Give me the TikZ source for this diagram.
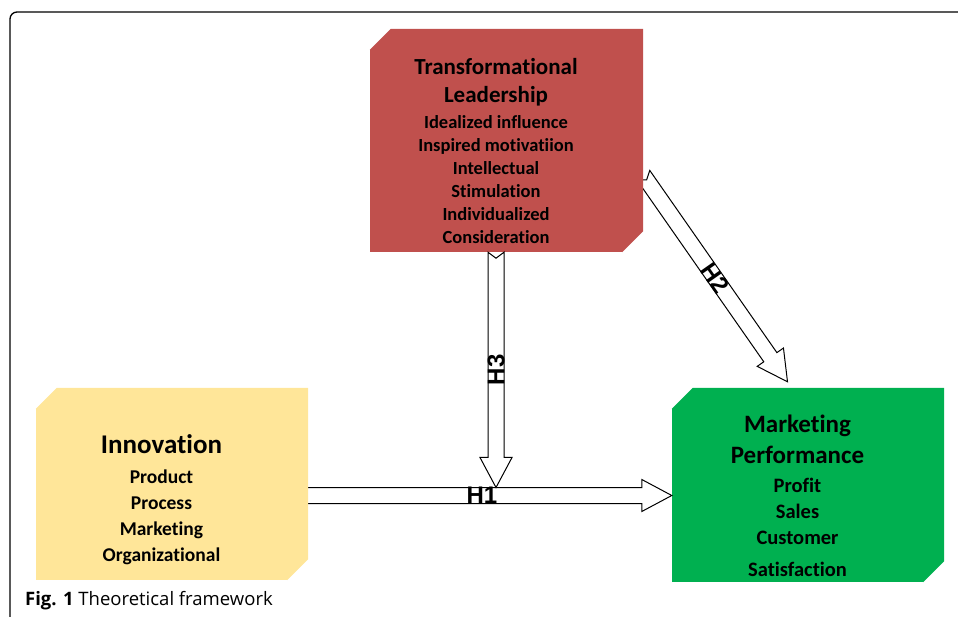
\documentclass[tikz,border=0pt]{standalone}
\usepackage{fontspec}
\setmainfont{Carlito}[Ligatures=NoCommon]
\newfontfamily\capfont{Open Sans}
\newfontfamily\hfont{Liberation Sans}
\usetikzlibrary{calc,positioning}

\definecolor{leadred}{HTML}{C0504D}
\definecolor{innovyellow}{HTML}{FFE699}
\definecolor{perfgreen}{HTML}{00B050}

\tikzset{
  face/.style={draw=none, inner sep=0pt, align=center},
  harrow/.style={draw=black, line width=1pt, fill=white, line join=miter},
  hlabel/.style={font=\hfont\bfseries\fontsize{24}{24}\selectfont, inner sep=0pt},
}

% hollow notched arrow from #1 (tail) to #2 (tip)
\newcommand\hollowarrow[2]{%
  \draw[harrow] ($(#1)!8pt!90:(#2)$)
    -- ($(#2)!30pt!(#1)!8pt!-90:(#1)$)
    -- ($(#2)!30pt!(#1)!16pt!-90:(#1)$)
    -- (#2)
    -- ($(#2)!30pt!(#1)!16pt!90:(#1)$)
    -- ($(#2)!30pt!(#1)!8pt!90:(#1)$)
    -- ($(#1)!8pt!-90:(#2)$)
    -- ($(#1)!6pt!(#2)$) -- cycle;}

\begin{document}
\begin{tikzpicture}[x=1pt,y=1pt]
 \clip (0,0) rectangle (958,616);
 \draw[line width=1.3pt,rounded corners=7pt] (10,-10) -- (10,604) -- (970,604);

 % front faces
 \node[face,fill=leadred,minimum width=252,minimum height=202,
   font=\bfseries\fontsize{18.5}{23}\selectfont] (lead) at (496,465)
  {{\fontsize{23}{28}\selectfont Transformational}\\[5pt]
   {\fontsize{23}{28}\selectfont Leadership}\\[3pt]
   Idealized influence\\ Inspired motivatiion\\ Intellectual\\
   Stimulation\\ Individualized\\ Consideration};
 \node[face,fill=innovyellow,minimum width=251,minimum height=171,
   font=\bfseries\fontsize{19.5}{26}\selectfont] (innov) at (161.5,121.5)
  {{\fontsize{27}{30}\selectfont\rule{0pt}{29pt}Innovation}\\[4pt]
   Product\\ Process\\ Marketing\\ Organizational};
 \node[face,fill=perfgreen,minimum width=251,minimum height=173,
   font=\bfseries\fontsize{20.5}{26}\selectfont] (perf) at (797.5,120.5)
  {{\fontsize{25}{31}\selectfont Marketing}\\[5pt]
   {\fontsize{25}{31}\selectfont Performance}\\[3pt]
   Profit\\ Sales\\ Customer\\[6pt] Satisfaction};

 % arrow ends
 \coordinate (h1tail) at ($(innov.east |- perf.west)+(5,0)$);
 \coordinate (h3tip) at ($(lead.south |- perf.west)+(0,8)$);
 \coordinate (h2tail) at ($(lead.east)+(21,-24)$);
 \coordinate (h2tip) at ($(perf.north)+(-10,27)$);

 \hollowarrow{h1tail}{perf.west}
 \hollowarrow{lead.south}{h3tip}
 \hollowarrow{h2tail}{h2tip}

 % top and side faces
 \foreach \n/\c in {lead/leadred,innov/innovyellow,perf/perfgreen}{
  \fill[\c] (\n.north west) -- ++(21,21) -- ($(\n.north east)+(21,21)$)
   -- ($(\n.south east)+(21,21)$) -- (\n.south east) -- (\n.north east) -- cycle;
 }

 \node[hlabel] (h1) at ($(h1tail)!.5!(perf.west)$) {H1};
 \node[hlabel,rotate=-55] (h2) at ($(h2tail)!.5!(h2tip)$) {H2};
 \node[hlabel,rotate=90] (h3) at ($(lead.south)!.5!(h3tip)$) {H3};

 \node[anchor=base west,inner sep=0pt,font=\capfont\fontsize{18.5}{21}\selectfont] (caption) at (25,11)
  {\textbf{Fig. 1} Theoretical framework};
\end{tikzpicture}
\end{document}
